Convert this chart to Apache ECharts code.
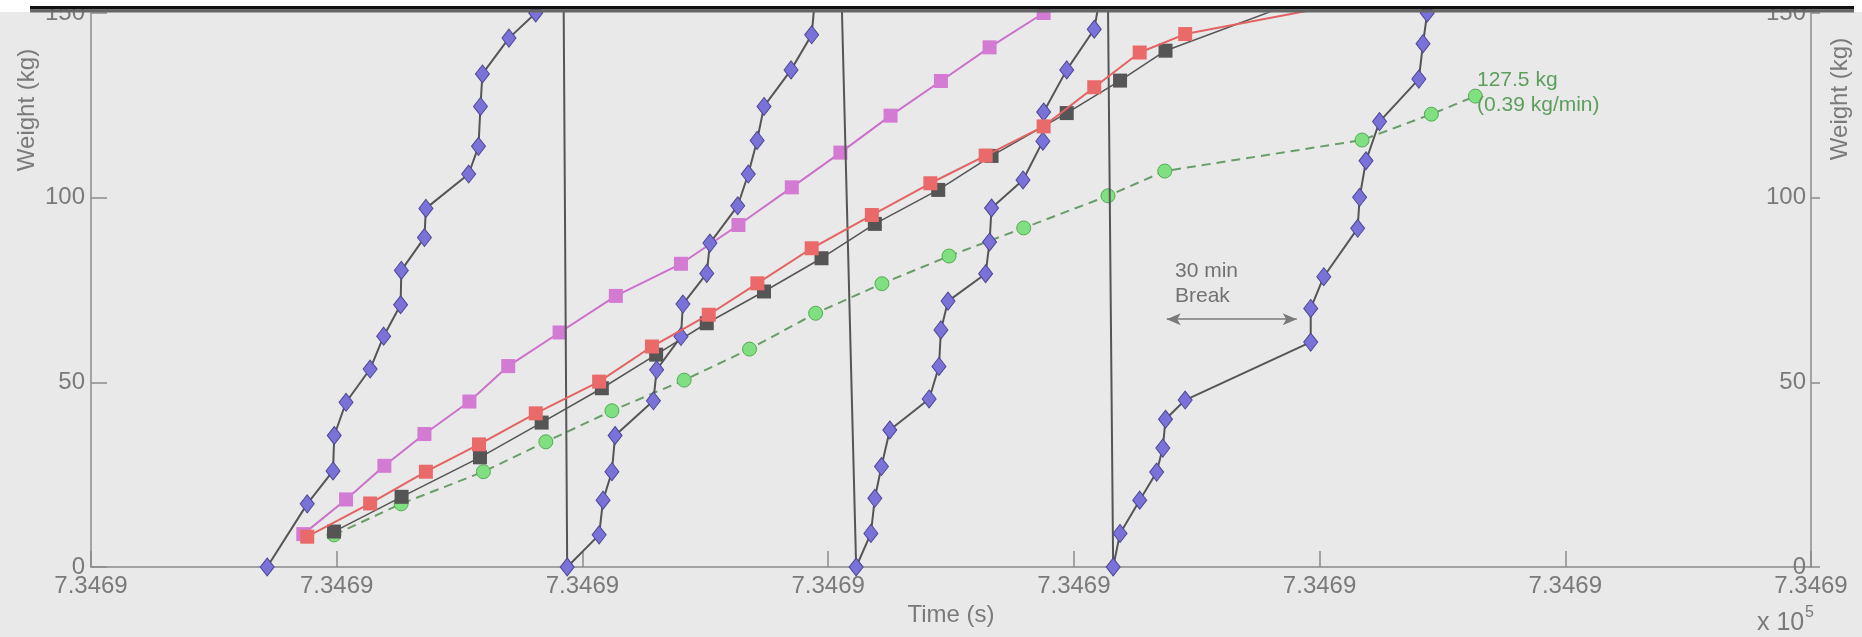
<!DOCTYPE html>
<html>
<head>
<meta charset="utf-8">
<script src="https://cdn.jsdelivr.net/npm/echarts@6/dist/echarts.min.js"></script>
<style>
html,body{margin:0;padding:0;background:#ffffff;}
#chart{width:1862px;height:637px;}
</style>
</head>
<body>
<div id="chart"></div>
<script>
// ---- axis tick labels ----
const xTickLabels = ['7.3469','7.3469','7.3469','7.3469','7.3469','7.3469','7.3469','7.3469'];
const yTicks = [0, 50, 100, 150];

// ---- time values are in tick intervals from the left edge of the axis ----
// Blue (diamond) series: repeated fill runs with drops back to zero
const blueT = [0.717,0.880,0.985,0.990,1.038,1.136,1.191,1.260,1.263,1.357,1.363,1.537,1.577,1.585,1.593,1.701,1.810,1.923,
               1.938,2.068,2.084,2.120,2.133,2.289,2.302,2.401,2.409,2.506,2.519,2.632,2.675,2.711,2.739,2.849,2.933,3.031,
               3.114,3.174,3.190,3.217,3.251,3.411,3.451,3.459,3.488,3.641,3.657,3.665,3.793,3.874,3.877,3.971,4.083,4.137,
               4.160,4.188,4.268,4.337,4.362,4.373,4.453,4.964,4.964,5.017,5.155,5.163,5.189,5.244,5.404,5.421,5.438];
const blueW = [0,17.1,26.0,35.6,44.6,53.6,62.5,71.0,80.3,89.2,97.1,106.4,113.9,124.7,133.5,143.2,150,158.7,
               0,8.7,18.1,25.8,35.6,45.0,53.4,62.4,71.2,79.5,87.7,97.8,106.4,115.5,124.7,134.6,144.1,216,
               0,9.1,18.6,27.2,37.1,45.5,54.3,64.2,72.0,79.4,88.0,97.2,104.8,115.3,123.2,134.6,145.6,166,
               0,9.1,18.1,25.7,32.2,40.0,45.2,60.9,70.0,78.6,91.7,100.1,110.0,120.6,132.1,141.7,150];

// Magenta squares
const magT = [0.864,1.038,1.194,1.357,1.540,1.698,1.907,2.136,2.401,2.635,2.852,3.050,3.254,3.459,3.657,3.877];
const magW = [8.9,18.3,27.4,36.0,44.8,54.4,63.5,73.4,82.1,92.6,102.8,112.2,122.2,131.6,140.7,150];

// Red squares
const redT = [0.880,1.136,1.363,1.579,1.810,2.068,2.283,2.514,2.712,2.933,3.178,3.416,3.641,3.877,4.083,4.268,4.453,5.300];
const redW = [8.2,17.2,25.8,33.2,41.6,50.2,59.7,68.3,76.8,86.3,95.3,103.9,111.4,119.3,129.9,139.3,144.3,155];

// Dark grey squares
const blackT = [0.989,1.264,1.583,1.834,2.079,2.300,2.506,2.739,2.973,3.190,3.448,3.665,3.971,4.188,4.373,5.190];
const blackW = [9.6,19.0,29.7,39.1,48.4,57.5,66.0,74.6,83.6,92.9,102.1,111.3,122.9,131.7,139.8,160];

// Green circles (dashed)
const greenT = [0.989,1.262,1.597,1.851,2.120,2.414,2.680,2.949,3.219,3.492,3.796,4.139,4.370,5.173,5.455,5.634];
const greenW = [8.7,17.1,25.8,33.9,42.3,50.6,59.0,68.7,76.7,84.2,91.8,100.5,107.2,115.6,122.6,127.5];

// "30 min Break" arrow (time span, weight level)
const breakArrowT = [4.378, 4.907];
const breakArrowW = 67.1;

const FONT = "'Liberation Sans', Arial, Helvetica, sans-serif";
const TXT = '#7a7a7a';

function zip(t, w) { return t.map((v, i) => [v, w[i]]); }

const chart = echarts.init(document.getElementById('chart'), null, {renderer: 'canvas'});

const axisLineStyle = {color: '#8a8a8a', width: 1.5};

const option = {
  animation: false,
  backgroundColor: '#e9e9e9',
  grid: {left: 91, right: 51, top: 13, bottom: 70, containLabel: false, outerBoundsMode: 'none'},
  xAxis: {
    type: 'value', min: 0, max: xTickLabels.length - 1, interval: 1,
    name: 'Time (s)', nameLocation: 'middle', nameGap: 30,
    nameTextStyle: {fontSize: 24, color: TXT, fontFamily: FONT},
    axisLine: {show: true, lineStyle: axisLineStyle},
    axisTick: {show: true, inside: true, length: 16, lineStyle: axisLineStyle},
    axisLabel: {show: true, fontSize: 24, color: TXT, fontFamily: FONT, margin: 7,
      showMinLabel: true, showMaxLabel: true,
      formatter: v => xTickLabels[Math.round(v)]},
    splitLine: {show: false}
  },
  yAxis: [
    {
      type: 'value', min: yTicks[0], max: yTicks[yTicks.length - 1], interval: yTicks[1] - yTicks[0], position: 'left',
      axisLine: {show: true, lineStyle: axisLineStyle},
      axisTick: {show: true, inside: true, length: 16, lineStyle: axisLineStyle},
      axisLabel: {fontSize: 24, color: TXT, fontFamily: FONT, margin: 6, showMinLabel: true, showMaxLabel: true},
      splitLine: {show: false}
    },
    {
      type: 'value', min: yTicks[0], max: yTicks[yTicks.length - 1], interval: yTicks[1] - yTicks[0], position: 'right',
      axisLine: {show: true, lineStyle: axisLineStyle},
      axisTick: {show: true, inside: false, length: 9, lineStyle: axisLineStyle},
      axisLabel: {inside: true, fontSize: 24, color: TXT, fontFamily: FONT, margin: 5, showMinLabel: true, showMaxLabel: true},
      splitLine: {show: false}
    }
  ],
  series: [
    {
      name: 'green', type: 'line', z: 2, data: zip(greenT, greenW),
      symbol: 'circle', symbolSize: 14,
      itemStyle: {color: '#80df80', borderColor: '#52ad52', borderWidth: 1},
      lineStyle: {color: '#6a9c6a', width: 2, type: [9, 6]},
      emphasis: {disabled: true},
      markLine: {
        silent: true, symbol: ['arrow', 'arrow'], symbolSize: [9, 14],
        label: {show: false},
        lineStyle: {color: '#7a7a7a', width: 1.5, type: 'solid'},
        emphasis: {disabled: true},
        data: [[{coord: [breakArrowT[0], breakArrowW]}, {coord: [breakArrowT[1], breakArrowW]}]]
      }
    },
    {
      name: 'black', type: 'line', z: 3, data: zip(blackT, blackW),
      symbol: 'rect', symbolSize: 14,
      itemStyle: {color: '#555555'},
      lineStyle: {color: '#555555', width: 1.5},
      emphasis: {disabled: true}
    },
    {
      name: 'magenta', type: 'line', z: 4, data: zip(magT, magW),
      symbol: 'rect', symbolSize: 14,
      itemStyle: {color: '#d37ad3'},
      lineStyle: {color: '#cc70cc', width: 2},
      emphasis: {disabled: true}
    },
    {
      name: 'blue', type: 'line', z: 5, data: zip(blueT, blueW),
      symbol: 'diamond', symbolSize: [14, 18],
      itemStyle: {color: '#7a72d8', borderColor: '#4d4794', borderWidth: 1},
      lineStyle: {color: '#555555', width: 2},
      emphasis: {disabled: true}
    },
    {
      name: 'red', type: 'line', z: 6, data: zip(redT, redW),
      symbol: 'rect', symbolSize: 14,
      itemStyle: {color: '#ea6a6a'},
      lineStyle: {color: '#e46262', width: 2},
      emphasis: {disabled: true}
    }
  ],
  graphic: [
    {type: 'rect', z: 100, shape: {x: 0, y: 0, width: 1862, height: 6}, style: {fill: '#ffffff'}},
    {type: 'rect', z: 100, shape: {x: 0, y: 0, width: 30, height: 12}, style: {fill: '#ffffff'}},
    {type: 'rect', z: 100, shape: {x: 1854, y: 0, width: 8, height: 12}, style: {fill: '#ffffff'}},
    {type: 'rect', z: 101, shape: {x: 30, y: 6, width: 1824, height: 3.5}, style: {fill: '#111111'}},
    {type: 'rect', z: 101, shape: {x: 30, y: 9.5, width: 1824, height: 3}, style: {fill: '#666666'}},
    {type: 'text', z: 50, x: 27, y: 110, rotation: Math.PI / 2,
      style: {text: 'Weight (kg)', fontSize: 24, fontFamily: FONT, fill: TXT,
        textAlign: 'center', textVerticalAlign: 'middle', align: 'center', verticalAlign: 'middle'}},
    {type: 'text', z: 50, x: 1840, y: 99, rotation: Math.PI / 2,
      style: {text: 'Weight (kg)', fontSize: 24, fontFamily: FONT, fill: TXT,
        textAlign: 'center', textVerticalAlign: 'middle', align: 'center', verticalAlign: 'middle'}},
    {type: 'text', z: 50, x: 1757, y: 623,
      style: {text: 'x 10', fontSize: 25, fontFamily: FONT, fill: TXT,
        textAlign: 'left', textVerticalAlign: 'middle', align: 'left', verticalAlign: 'middle'}},
    {type: 'text', z: 50, x: 1805, y: 613,
      style: {text: '5', fontSize: 16, fontFamily: FONT, fill: TXT,
        textAlign: 'left', textVerticalAlign: 'middle', align: 'left', verticalAlign: 'middle'}},
    {type: 'text', z: 50, x: 1175, y: 271,
      style: {text: '30 min', fontSize: 21, fontFamily: FONT, fill: '#727272',
        textAlign: 'left', textVerticalAlign: 'middle', align: 'left', verticalAlign: 'middle'}},
    {type: 'text', z: 50, x: 1175, y: 296,
      style: {text: 'Break', fontSize: 21, fontFamily: FONT, fill: '#727272',
        textAlign: 'left', textVerticalAlign: 'middle', align: 'left', verticalAlign: 'middle'}},
    {type: 'text', z: 50, x: 1477, y: 80,
      style: {text: '127.5 kg', fontSize: 21, fontFamily: FONT, fill: '#5c9f5c',
        textAlign: 'left', textVerticalAlign: 'middle', align: 'left', verticalAlign: 'middle'}},
    {type: 'text', z: 50, x: 1477, y: 105,
      style: {text: '(0.39 kg/min)', fontSize: 21, fontFamily: FONT, fill: '#5c9f5c',
        textAlign: 'left', textVerticalAlign: 'middle', align: 'left', verticalAlign: 'middle'}}
  ]
};

chart.setOption(option);
</script>
</body>
</html>
